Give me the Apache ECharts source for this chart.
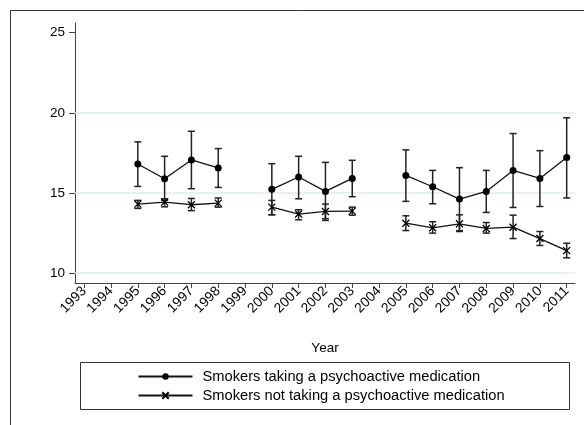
<!DOCTYPE html>
<html><head><meta charset="utf-8">
<script src="https://cdn.jsdelivr.net/npm/echarts@6/dist/echarts.min.js"></script>
<style>html,body{margin:0;padding:0;background:#fff}#c{width:584px;height:425px}</style>
</head><body><div id="c"></div>
<script>
const years = [1993,1994,1995,1996,1997,1998,1999,2000,2001,2002,2003,2004,2005,2006,2007,2008,2009,2010,2011];
const medMean = [null,null,16.81,15.89,17.06,16.56,null,15.23,16.00,15.10,15.91,null,16.10,15.39,14.62,15.10,16.41,15.91,17.21];
const medLow  = [null,null,15.41,14.55,15.27,15.35,null,13.65,14.64,13.40,14.77,null,14.48,14.33,12.65,13.79,14.10,14.16,14.69];
const medHigh = [null,null,18.19,17.29,18.85,17.77,null,16.83,17.29,16.91,17.04,null,17.69,16.41,16.58,16.41,18.71,17.64,19.69];
const noMean  = [null,null,14.31,14.43,14.27,14.37,null,14.12,13.69,13.85,13.87,null,13.12,12.83,13.08,12.79,12.87,12.16,11.41];
const noLow   = [null,null,14.04,14.14,13.90,14.12,null,13.64,13.33,13.29,13.62,null,12.66,12.50,12.60,12.50,12.16,11.73,10.96];
const noHigh  = [null,null,14.54,14.64,14.66,14.69,null,14.54,13.96,14.31,14.12,null,13.58,13.21,13.64,13.16,13.62,12.60,11.87];
const yTicks = [10,15,20,25];
const gridVals = [10,15,20];
const seriesNames = ['Smokers taking a psychoactive medication','Smokers not taking a psychoactive medication'];

const FONT = 'Arial, "Liberation Sans", sans-serif';
const pts = (m) => years.map((y,i) => [y, m[i]]);
const bars = (lo, hi) => years.map((y,i) => lo[i]==null ? null : [y, lo[i], hi[i]]).filter(d => d);

function errRender(params, api) {
  const x = api.value(0);
  const p1 = api.coord([x, api.value(1)]);
  const p2 = api.coord([x, api.value(2)]);
  const w = 3.5;
  const st = {stroke:'#222', lineWidth:1.5};
  return {type:'group', children:[
    {type:'line', shape:{x1:p1[0],y1:p1[1],x2:p2[0],y2:p2[1]}, style:st},
    {type:'line', shape:{x1:p1[0]-w,y1:p1[1],x2:p1[0]+w,y2:p1[1]}, style:st},
    {type:'line', shape:{x1:p2[0]-w,y1:p2[1],x2:p2[0]+w,y2:p2[1]}, style:st}
  ]};
}

const chart = echarts.init(document.getElementById('c'), null, {renderer:'canvas'});
chart.setOption({
  animation:false,
  textStyle:{fontFamily:FONT},
  grid:{left:75, right:9, top:23, bottom:142, containLabel:false},
  graphic:[
    {type:'rect', shape:{x:10.5,y:10.5,width:600,height:450}, style:{fill:'none', stroke:'#333', lineWidth:1}, silent:true, z:-1},
    {type:'rect', shape:{x:80.5,y:362.5,width:489,height:47}, style:{fill:'#fff', stroke:'#333', lineWidth:1}, silent:true, z:0}
  ],
  xAxis:{type:'value', min:1992.657, max:2011.31, name:'Year', nameLocation:'middle', nameGap:58,
    nameTextStyle:{fontSize:13.5, color:'#000', fontFamily:FONT},
    axisLine:{show:true, lineStyle:{color:'#444', width:1}},
    axisTick:{show:true, length:5, lineStyle:{color:'#444'}, customValues:years},
    axisLabel:{rotate:45, fontSize:13.8, color:'#000', margin:6, customValues:years, fontFamily:FONT,
      formatter:(v) => String(v)},
    splitLine:{show:false}},
  yAxis:{type:'value', min:9.39, max:25.6,
    axisLine:{show:true, lineStyle:{color:'#444', width:1}},
    axisTick:{show:true, length:6, lineStyle:{color:'#444'}, customValues:yTicks},
    axisLabel:{fontSize:13.5, color:'#000', margin:10, customValues:yTicks, fontFamily:FONT},
    splitLine:{show:false}},
  legend:{orient:'vertical', left:137.5, top:369, padding:0, itemWidth:54, itemHeight:8, itemGap:4,
    textStyle:{fontSize:14.7, color:'#000', fontFamily:FONT, padding:[0,0,0,5]},
    data:seriesNames, z:5},
  series:[
    {type:'custom', name:'medErr', renderItem:errRender, data:bars(medLow, medHigh), encode:{x:0,y:[1,2]}, z:2, silent:true},
    {type:'custom', name:'noErr', renderItem:errRender, data:bars(noLow, noHigh), encode:{x:0,y:[1,2]}, z:2, silent:true},
    {type:'line', name:seriesNames[0], data:pts(medMean), connectNulls:false, symbol:'circle', symbolSize:7, showSymbol:true,
      lineStyle:{color:'#111', width:1.3}, itemStyle:{color:'#000'}, z:3,
      markLine:{silent:true, symbol:'none', label:{show:false}, lineStyle:{color:'#e2ebee', width:1.5, type:'solid'},
        data:gridVals.map(v => ({yAxis:v})), z:1}},
    {type:'line', name:seriesNames[1], data:pts(noMean), connectNulls:false, symbol:'path://M0,0L10,10M10,0L0,10', symbolSize:7, showSymbol:true,
      lineStyle:{color:'#111', width:1.3}, itemStyle:{color:'#000', borderColor:'#000', borderWidth:1.3}, z:3}
  ]
});
</script></body></html>
